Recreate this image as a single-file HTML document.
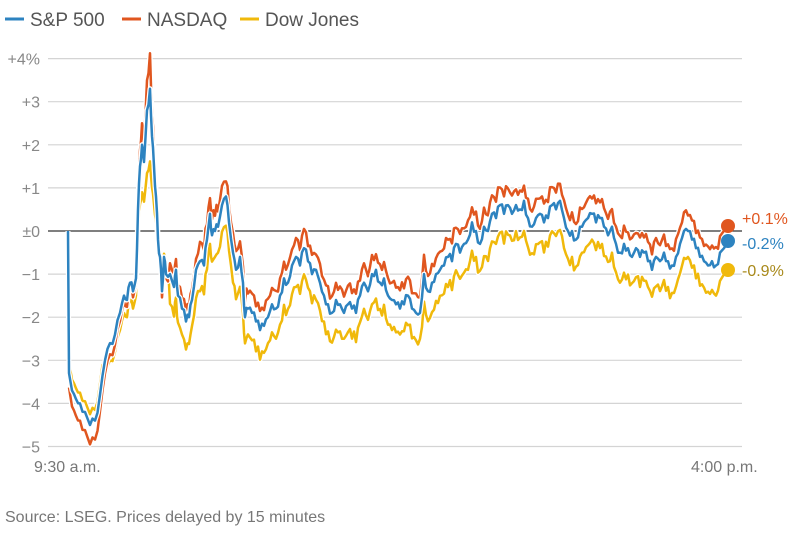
<!DOCTYPE html>
<html><head><meta charset="utf-8"><style>
html,body{margin:0;padding:0;background:#fff;width:800px;height:534px;overflow:hidden}
svg{display:block;font-family:"Liberation Sans",sans-serif}
</style></head><body>
<svg id="c" width="800" height="534" viewBox="0 0 800 534">
<g font-size="19" fill="#555">
<line x1="5" y1="19" x2="24" y2="19" stroke="#2d83c0" stroke-width="3"/>
<text x="30" y="26">S&amp;P 500</text>
<line x1="122" y1="19" x2="141" y2="19" stroke="#e0561f" stroke-width="3"/>
<text x="147" y="26">NASDAQ</text>
<line x1="240" y1="19" x2="259" y2="19" stroke="#f0b90b" stroke-width="3"/>
<text x="265" y="26">Dow Jones</text>
</g>
<g id="grid" stroke="#d4d4d4" stroke-width="1.2"></g>
<g id="yl" font-size="16" fill="#888" text-anchor="end"></g>
<line x1="48" y1="231" x2="742" y2="231" stroke="#333" stroke-width="1.3"/>
<g id="series" fill="none" stroke-linejoin="round"></g>
<circle cx="728" cy="226" r="7" fill="#e0561f"/>
<circle cx="728" cy="241" r="7" fill="#2d83c0"/>
<circle cx="728" cy="270" r="7" fill="#f0b90b"/>
<g font-size="16">
<text x="742" y="224" fill="#e0561f">+0.1%</text>
<text x="742" y="249" fill="#2d83c0">-0.2%</text>
<text x="742" y="276" fill="#a8891a">-0.9%</text>
</g>
<g font-size="16" fill="#777">
<text x="34" y="472">9:30 a.m.</text>
<text x="691" y="472">4:00 p.m.</text>
<text x="5" y="522">Source: LSEG. Prices delayed by 15 minutes</text>
</g>
</svg>
<script>
var ns="http://www.w3.org/2000/svg";
function Y(p){return 231-p*43.1;}
var g=document.getElementById('grid'),yl=document.getElementById('yl');
var labs={4:"+4%",3:"+3",2:"+2",1:"+1",0:"±0","-1":"−1","-2":"−2","-3":"−3","-4":"−4","-5":"−5"};
for(var i=4;i>=-5;i--){ if(i!==0){var l=document.createElementNS(ns,'line');l.setAttribute('x1',48);l.setAttribute('x2',742);l.setAttribute('y1',Y(i));l.setAttribute('y2',Y(i));g.appendChild(l);}
var t=document.createElementNS(ns,'text');t.setAttribute('x',40);t.setAttribute('y',Y(i)+6);t.textContent=labs[i];yl.appendChild(t);}
var d=[68,0,69,-3.3,72,-3.7,76,-3.9,80,-4.0,85,-4.2,90,-4.5,95,-4.4,100,-3.8,105,-3.0,110,-2.6,115,-2.4,120,-1.9,124,-1.5,127,-1.6,130,-1.2,133,-1.4,136,-1.1,138,0.5,140,1.5,142,2.0,144,1.6,147,2.8,150,3.3,152,2.2,154,1.5,156,0.8,158,-0.2,160,-0.6,162,-1.4,164,-0.6,166,-1.0,170,-1.0,174,-1.3,176,-0.9,178,-1.5,182,-1.8,186,-2.1,189,-2.0,192,-1.6,196,-0.9,200,-0.7,204,-0.8,207,-0.2,210,0.4,212,-0.1,215,0,218,0.1,222,0.6,226,0.8,229,0.2,233,-0.5,236,-0.9,240,-0.6,243,-1.2,245,-2.0,248,-1.8,252,-1.9,256,-2.1,260,-2.3,264,-2.2,268,-2.0,272,-1.7,276,-1.8,280,-1.5,284,-1.1,288,-1.2,292,-0.8,296,-0.6,300,-0.8,304,-0.4,308,-0.7,312,-1.0,316,-0.9,320,-1.2,324,-1.5,328,-1.7,332,-1.9,336,-1.6,340,-1.7,344,-1.9,348,-1.7,352,-1.8,356,-1.9,360,-1.5,364,-1.2,368,-1.4,372,-1.0,376,-0.9,380,-1.2,384,-1.1,388,-1.5,392,-1.6,396,-1.7,400,-1.8,404,-1.7,408,-1.5,412,-1.8,416,-1.9,420,-1.9,424,-1.0,428,-1.4,432,-1.2,436,-1.0,440,-0.9,444,-0.8,448,-0.6,452,-0.7,456,-0.3,460,-0.5,464,-0.3,468,-0.2,472,0.2,476,0.0,480,-0.3,484,0.1,488,0.0,492,0.4,496,0.3,500,0.6,504,0.4,508,0.6,512,0.4,516,0.6,520,0.5,524,0.7,528,0.3,532,0.1,536,0.3,540,0.4,544,0.2,548,0.3,552,0.6,556,0.5,560,0.7,564,0.3,568,0.0,572,0.0,576,-0.2,580,0.1,584,0.2,588,0.3,592,0.4,596,0.2,600,0.3,604,0.1,608,-0.1,612,0.1,616,-0.3,620,-0.5,624,-0.3,628,-0.4,632,-0.6,636,-0.4,640,-0.6,644,-0.5,648,-0.7,652,-0.9,656,-0.6,660,-0.7,664,-0.5,668,-0.7,672,-0.8,676,-0.6,680,-0.3,684,0.0,688,0.0,692,-0.2,696,-0.4,700,-0.6,704,-0.7,708,-0.8,712,-0.7,716,-0.8,720,-0.5,724,-0.4,728,-0.25];
var sp=[],nq=[],dw=[];
for(var k=0;k<d.length;k+=2){var x=d[k],s=d[k+1];
 var pts=[[x,s]];
 if(k+2<d.length && x>70 && x<720){var x2=d[k+2],s2=d[k+3];var xm=(x+x2)/2;pts.push([xm,(s+s2)/2+0.12*Math.sin(x*1.7)]);}
 for(var j=0;j<pts.length;j++){var X=pts[j][0],S=pts[j][1];
 var n=X<137?(X===68?0:S*1.1):X<170?(S>0?S*1.25:S*1.1):(X<200?S+0.25:S+0.4+0.05*Math.sin(X*2.3));
 var w=X===68?0:(X<137?(S<-3?S+0.25:S-0.4):X<170?S*0.55-0.2:S-0.65+0.05*Math.cos(X*1.9));
 sp.push(X+","+Y(S).toFixed(1));nq.push(X+","+Y(n).toFixed(1));dw.push(X+","+Y(w).toFixed(1));}}
var se=document.getElementById('series');
function add(pts,c){var h=document.createElementNS(ns,'polyline');h.setAttribute('points',pts.join(' '));h.setAttribute('stroke','#fff');h.setAttribute('stroke-width','5');se.appendChild(h);
var p=document.createElementNS(ns,'polyline');p.setAttribute('points',pts.join(' '));p.setAttribute('stroke',c);p.setAttribute('stroke-width','2.5');se.appendChild(p);}
add(dw.slice(1),'#f0b90b');add(nq.slice(1),'#e0561f');add(sp,'#2d83c0');
</script>
</body></html>
